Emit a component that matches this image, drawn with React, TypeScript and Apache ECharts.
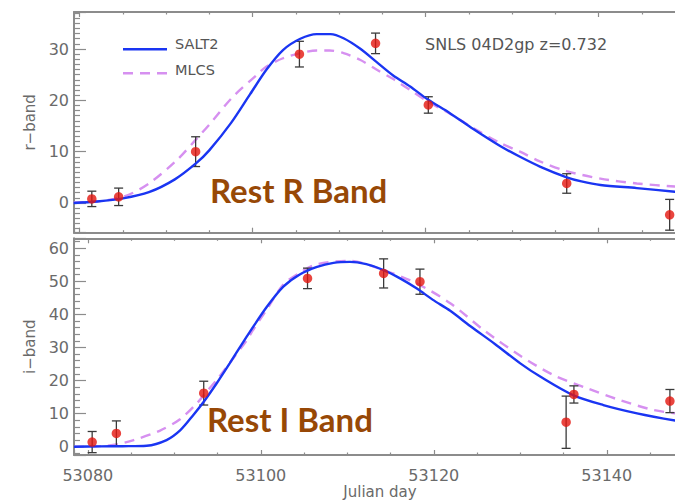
import React, { useEffect, useRef } from 'react';
import * as echarts from 'echarts';

// Observed points, r-band (top panel)
const rDays = [53081.4, 53084.5, 53093.4, 53105.4, 53114.2, 53120.3, 53136.3, 53148.2];
const rFlux = [0.8, 1.2, 10.0, 29.0, 31.1, 19.1, 3.8, -2.3];
const rErr = [1.5, 1.7, 2.9, 2.5, 2.0, 1.6, 1.9, 3.0];

// Observed points, i-band (bottom panel)
const iDays = [53080.5, 53083.3, 53093.4, 53105.4, 53114.2, 53118.4, 53135.3, 53136.2, 53147.3];
const iFlux = [1.4, 4.0, 16.2, 50.9, 52.4, 49.9, 7.4, 15.8, 13.8];
const iErr = [3.2, 3.8, 3.6, 3.1, 4.4, 3.8, 7.9, 2.6, 3.5];

// SALT2 model, r-band
const salt2RDays = [53079.3, 53082.0, 53085.0, 53088.0, 53091.0, 53093.5, 53095.0, 53097.5, 53099.7, 53101.6, 53103.5, 53105.5, 53107.4, 53109.0, 53110.5, 53112.4, 53114.3, 53116.2, 53118.2, 53120.3, 53122.8, 53125.5, 53128.6, 53130.9, 53133.2, 53136.3, 53138.0, 53140.2, 53144.4, 53148.8, 53150.5];
const salt2RFlux = [0.0, 0.3, 0.9, 2.1, 4.6, 7.8, 10.3, 15.6, 21.2, 26.0, 29.8, 32.0, 32.9, 32.9, 32.1, 30.1, 27.5, 24.9, 22.7, 20.1, 17.5, 14.4, 11.1, 9.0, 7.1, 5.0, 4.2, 3.5, 2.9, 2.2, 2.0];

// MLCS model, r-band
const mlcsRDays = [53079.3, 53082.0, 53084.0, 53085.8, 53088.1, 53091.2, 53093.4, 53095.1, 53097.6, 53100.5, 53101.6, 53103.5, 53105.5, 53107.4, 53108.9, 53110.5, 53112.4, 53114.3, 53116.3, 53118.2, 53120.3, 53122.8, 53125.5, 53128.6, 53130.9, 53133.2, 53136.3, 53140.2, 53144.4, 53148.8, 53150.5];
const mlcsRFlux = [0.1, 0.3, 0.8, 1.7, 3.9, 8.3, 12.3, 15.5, 20.5, 25.0, 26.6, 28.2, 29.2, 29.7, 29.7, 29.2, 27.9, 26.0, 24.1, 22.0, 19.7, 17.4, 14.6, 11.7, 10.0, 8.1, 6.2, 4.75, 3.8, 3.2, 3.0];

// SALT2 model, i-band
const salt2IDays = [53078.4, 53081.4, 53084.0, 53086.8, 53089.1, 53090.7, 53092.2, 53093.4, 53094.9, 53096.4, 53098.0, 53098.75, 53100.7, 53102.6, 53104.5, 53106.5, 53108.4, 53110.3, 53112.2, 53114.2, 53116.1, 53118.0, 53119.9, 53121.9, 53124.2, 53127.1, 53130.0, 53132.3, 53136.1, 53139.6, 53143.5, 53147.9, 53149.6];
const salt2IFlux = [0.0, 0.1, 0.15, 0.3, 2.0, 5.0, 9.6, 13.6, 19.2, 25.2, 31.8, 34.8, 42.3, 48.4, 52.1, 54.4, 55.6, 55.9, 55.2, 53.4, 50.9, 47.9, 44.4, 41.1, 36.5, 31.0, 25.2, 21.2, 15.6, 12.6, 10.1, 7.9, 7.3];

// MLCS model, i-band
const mlcsIDays = [53078.4, 53081.8, 53083.5, 53085.3, 53088.3, 53090.7, 53092.6, 53093.4, 53094.9, 53096.8, 53098.4, 53099.1, 53100.7, 53102.6, 53104.5, 53106.5, 53110.3, 53114.2, 53118.0, 53121.9, 53125.9, 53130.0, 53133.8, 53137.7, 53141.5, 53145.4, 53147.9, 53149.6];
const mlcsIFlux = [0.0, 0.2, 0.8, 2.0, 4.8, 8.4, 13.1, 15.6, 20.2, 26.7, 32.3, 35.3, 41.5, 49.0, 52.6, 55.2, 56.2, 53.4, 49.4, 43.4, 35.0, 27.5, 21.7, 17.7, 14.1, 11.1, 10.1, 9.6];

const pairs = (xs: number[], ys: number[]) => xs.map((x, i) => [x, ys[i]]);

const AXIS = '#8c8c8c';
const LABEL = '#6a6a6a';
const FONT = 'DejaVu Sans';
const BLUE = '#1a35f2';
const VIOLET = '#d690f0';

export default function App() {
  const ref = useRef<HTMLDivElement>(null);
  useEffect(() => {
    const chart = echarts.init(ref.current!, null, { renderer: 'svg' });

    const xAxisDef = (gridIndex: number, min: number, max: number, position: string, showLabel: boolean) => ({
      type: 'value',
      gridIndex,
      position,
      min,
      max,
      minInterval: 20,
      maxInterval: 20,
      axisLine: { show: true, onZero: false, lineStyle: { color: AXIS, width: 2 } },
      axisTick: { show: true, inside: true, length: 5, lineStyle: { color: AXIS, width: 1.2 } },
      minorTick: { show: true, splitNumber: 4, length: 2.5, lineStyle: { color: AXIS, width: 1.2 } },
      splitLine: { show: false },
      minorSplitLine: { show: false },
      axisLabel: {
        show: showLabel,
        showMinLabel: false,
        showMaxLabel: false,
        margin: 12,
        fontSize: 16,
        fontFamily: FONT,
        color: LABEL,
        formatter: (v: number) => (Math.abs(v % 20) < 1e-6 ? String(v) : ''),
      },
      name: showLabel ? 'Julian day' : '',
      nameLocation: 'middle',
      nameGap: 29,
      nameTextStyle: { fontSize: 15, fontFamily: FONT, color: LABEL },
    });

    const yAxisDef = (gridIndex: number, min: number, max: number, minorSplit: number, name: string) => ({
      type: 'value',
      gridIndex,
      min,
      max,
      minInterval: 10,
      maxInterval: 10,
      axisLine: { show: true, onZero: false, lineStyle: { color: AXIS, width: 2 } },
      axisTick: { show: true, inside: true, length: 12, lineStyle: { color: AXIS, width: 1.2 } },
      minorTick: { show: true, splitNumber: minorSplit, length: 6, lineStyle: { color: AXIS, width: 1.2 } },
      splitLine: { show: false },
      minorSplitLine: { show: false },
      axisLabel: {
        showMinLabel: false,
        showMaxLabel: false,
        margin: 5,
        fontSize: 16,
        fontFamily: FONT,
        color: LABEL,
        formatter: (v: number) => (Math.abs(v % 10) < 1e-6 ? String(v) : ''),
      },
      name,
      nameLocation: 'middle',
      nameGap: 35,
      nameTextStyle: { fontSize: 15, fontFamily: FONT, color: LABEL },
    });

    const errSeries = (xi: number, yi: number, days: number[], flux: number[], err: number[]) => ({
      type: 'custom',
      xAxisIndex: xi,
      yAxisIndex: yi,
      data: days.map((d, i) => [d, flux[i] - err[i], flux[i] + err[i]]),
      encode: { x: 0, y: [1, 2] },
      z: 3,
      renderItem: (params: any, api: any) => {
        const lo = api.coord([api.value(0), api.value(1)]);
        const hi = api.coord([api.value(0), api.value(2)]);
        const w = 4.5;
        const style = { stroke: '#3a3a3a', lineWidth: 1.3 };
        return {
          type: 'group',
          children: [
            { type: 'line', shape: { x1: lo[0], y1: lo[1], x2: hi[0], y2: hi[1] }, style },
            { type: 'line', shape: { x1: lo[0] - w, y1: lo[1], x2: lo[0] + w, y2: lo[1] }, style },
            { type: 'line', shape: { x1: hi[0] - w, y1: hi[1], x2: hi[0] + w, y2: hi[1] }, style },
          ],
        };
      },
    });

    const lineSeries = (name: string, xi: number, yi: number, data: number[][], color: string, dashed: boolean) => ({
      name,
      type: 'line',
      xAxisIndex: xi,
      yAxisIndex: yi,
      data,
      smooth: 0.3,
      showSymbol: false,
      symbol: 'none',
      z: dashed ? 2 : 4,
      lineStyle: { color, width: 2.4, type: dashed ? [10, 7] : 'solid' },
    });

    const dotSeries = (xi: number, yi: number, days: number[], flux: number[]) => ({
      type: 'scatter',
      xAxisIndex: xi,
      yAxisIndex: yi,
      data: pairs(days, flux),
      symbol: 'circle',
      symbolSize: 9.5,
      itemStyle: { color: '#e3170f' },
      z: 5,
    });

    chart.setOption({
      animation: false,
      backgroundColor: '#ffffff',
      grid: [
        { left: 74, top: 12, width: 612, height: 220.7, containLabel: false, outerBoundsMode: 'none' },
        { left: 74, top: 238.3, width: 612, height: 216.7, containLabel: false, outerBoundsMode: 'none' },
      ],
      xAxis: [
        xAxisDef(0, 53079.34, 53150.09, 'bottom', false),
        xAxisDef(0, 53079.34, 53150.09, 'top', false),
        xAxisDef(1, 53078.4, 53149.16, 'bottom', true),
        xAxisDef(1, 53078.4, 53149.16, 'top', false),
      ],
      yAxis: [
        yAxisDef(0, -5.79, 37.21, 10, 'r\u2212band'),
        yAxisDef(1, -2.51, 63.02, 5, 'i\u2212band'),
      ],
      series: [
        lineSeries('MLCS', 0, 0, pairs(mlcsRDays, mlcsRFlux), VIOLET, true),
        lineSeries('SALT2', 0, 0, pairs(salt2RDays, salt2RFlux), BLUE, false),
        errSeries(0, 0, rDays, rFlux, rErr),
        dotSeries(0, 0, rDays, rFlux),
        lineSeries('MLCS', 2, 1, pairs(mlcsIDays, mlcsIFlux), VIOLET, true),
        lineSeries('SALT2', 2, 1, pairs(salt2IDays, salt2IFlux), BLUE, false),
        errSeries(2, 1, iDays, iFlux, iErr),
        dotSeries(2, 1, iDays, iFlux),
      ],
      graphic: [
        { type: 'line', shape: { x1: 123, y1: 49.3, x2: 167, y2: 49.3 }, style: { stroke: BLUE, lineWidth: 2.4 } },
        { type: 'line', shape: { x1: 123, y1: 73.3, x2: 167, y2: 73.3 }, style: { stroke: VIOLET, lineWidth: 2.4, lineDash: [10, 7] } },
        { type: 'text', x: 175, y: 44.3, style: { text: 'SALT2', font: `14.5px "${FONT}"`, fill: '#555', verticalAlign: 'middle', align: 'left' } },
        { type: 'text', x: 175, y: 70, style: { text: 'MLCS', font: `14.5px "${FONT}"`, fill: '#555', verticalAlign: 'middle', align: 'left' } },
        { type: 'text', x: 425, y: 44, style: { text: 'SNLS 04D2gp z=0.732', font: `16px "${FONT}"`, fill: '#555', verticalAlign: 'middle', align: 'left' } },
        { type: 'text', x: 210, y: 190, style: { text: 'Rest R Band', font: 'bold 33px Lato', fill: '#974806', verticalAlign: 'middle', align: 'left' } },
        { type: 'text', x: 207, y: 419, style: { text: 'Rest I Band', font: 'bold 33px Lato', fill: '#974806', verticalAlign: 'middle', align: 'left' } },
      ],
    });
    return () => chart.dispose();
  }, []);

  return (
    <div style={{ position: 'fixed', left: 0, top: 0, width: 675, height: 501, overflow: 'hidden', background: '#fff' }}>
      <div ref={ref} style={{ width: 700, height: 501 }} />
    </div>
  );
}
